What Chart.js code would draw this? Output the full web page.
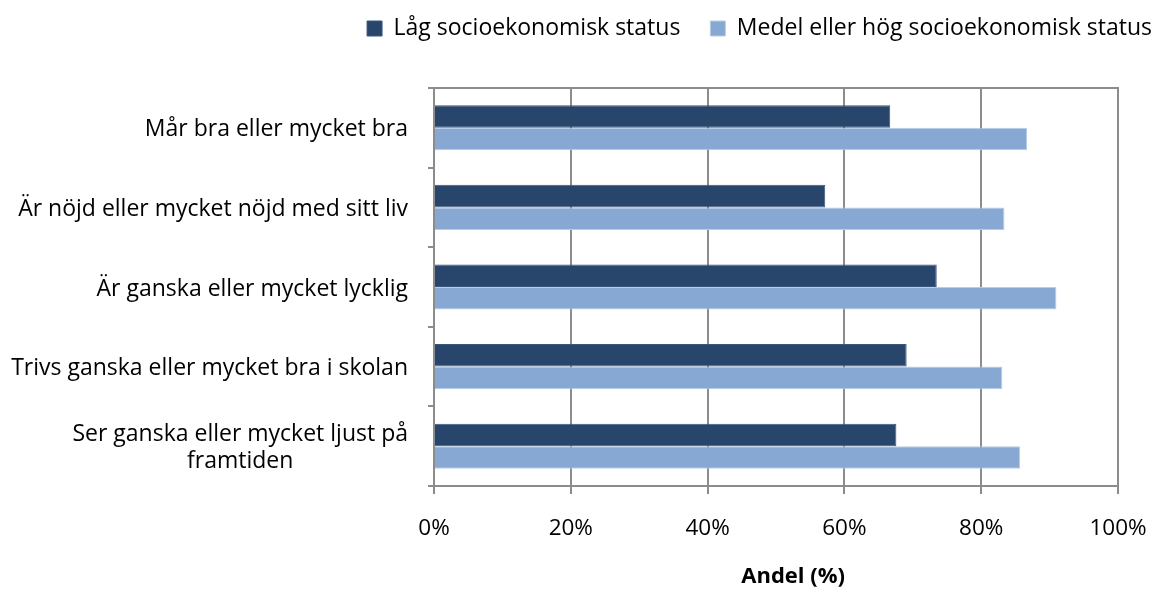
<!DOCTYPE html>
<html><head><meta charset="utf-8">
<script src="https://cdn.jsdelivr.net/npm/chart.js@4.4.1/dist/chart.umd.min.js"></script>
<style>html,body{margin:0;padding:0;background:#fff}#wrap{width:1157px;height:590px;position:relative}</style>
</head><body><div id="wrap"><canvas id="c" width="1157" height="590"></canvas></div>
<script>
const categories = [
  ['Mår bra eller mycket bra'],
  ['Är nöjd eller mycket nöjd med sitt liv'],
  ['Är ganska eller mycket lycklig'],
  ['Trivs ganska eller mycket bra i skolan'],
  ['Ser ganska eller mycket ljust på', 'framtiden']
];
const seriesNames = ['Låg socioekonomisk status', 'Medel eller hög socioekonomisk status'];
const lowStatus = [66.7, 57.2, 73.5, 69.1, 67.6];
const midHighStatus = [86.7, 83.4, 91.0, 83.1, 85.7];
const xTickValues = [0, 20, 40, 60, 80, 100];
const xTitle = 'Andel (%)';

const FONT = 'Open Sans';
const FS = 23;
const GRID = '#8c8c8c';

const catLabelPlugin = {
  id: 'catLabels',
  afterDraw(chart) {
    const s = chart.scales.y, ctx = chart.ctx;
    ctx.save();
    ctx.font = FS + 'px "' + FONT + '"';
    ctx.fillStyle = '#000';
    ctx.textAlign = 'center';
    ctx.textBaseline = 'alphabetic';
    const cap = ctx.measureText('M').actualBoundingBoxAscent;
    const lh = 27;
    const right = s.right - 6 - 20;
    categories.forEach((lines, i) => {
      const y = s.getPixelForTick(i);
      const bw = Math.max(...lines.map(l => ctx.measureText(l).width));
      const cx = right - bw / 2;
      const y0 = y - (lines.length - 1) * lh / 2 + cap / 2;
      lines.forEach((l, k) => ctx.fillText(l, cx, y0 + k * lh));
    });
    ctx.restore();
  }
};
const framePlugin = {
  id: 'frame',
  beforeUpdate(chart) {
    const lg = chart.legend;
    if (lg && !lg._gapPatched) {
      const f = lg.fit;
      lg.fit = function () { f.call(this); this.height += 38; };
      lg._gapPatched = true;
    }
  },
  afterDatasetsDraw(chart) {
    const a = chart.chartArea, ctx = chart.ctx;
    ctx.save();
    ctx.strokeStyle = GRID; ctx.lineWidth = 2;
    ctx.strokeRect(a.left, a.top, a.right - a.left, a.bottom - a.top);
    ctx.restore();
  }
};

new Chart(document.getElementById('c'), {
  type: 'bar',
  data: {
    labels: categories,
    datasets: [
      { label: seriesNames[0], data: lowStatus, backgroundColor: '#28466b', borderColor: '#3a5680', borderWidth: 1 },
      { label: seriesNames[1], data: midHighStatus, backgroundColor: '#86a8d3', borderColor: '#b9cde5', borderWidth: 1 }
    ]
  },
  options: {
    indexAxis: 'y',
    responsive: false,
    animation: false,
    events: [],
    categoryPercentage: 0.567,
    barPercentage: 1.0,
    layout: { padding: { left: 0, right: -25, top: -13, bottom: 0 } },
    plugins: {
      legend: {
        position: 'top', align: 'end',
        labels: { font: { family: FONT, size: FS }, color: '#000', boxWidth: 15, boxHeight: 15, padding: 30 }
      },
      tooltip: { enabled: false }
    },
    scales: {
      x: {
        min: 0, max: 100,
        afterBuildTicks(s) { s.ticks = xTickValues.map(v => ({ value: v })); },
        afterFit(s) { s.height = 104; s.paddingLeft = 0; s.paddingRight = 0; },
        grid: { color: GRID, lineWidth: 2, tickLength: 8, tickColor: GRID },
        border: { color: GRID, width: 2 },
        ticks: { font: { family: FONT, size: 22.5 }, color: '#000', padding: 21, maxRotation: 0, callback: v => v + '%' },
        title: { display: true, text: '      ' + xTitle, font: { family: FONT, size: 22, weight: 'bold' }, color: '#000', padding: { top: 0, bottom: 0 } }
      },
      y: {
        afterFit(s) { s.width = 434; },
        grid: { offset: true, drawOnChartArea: false, tickLength: 6, color: GRID, lineWidth: 2 },
        border: { color: GRID, width: 2 },
        ticks: { display: false }
      },
      y2: {
        type: 'linear', position: 'right', display: true,
        afterFit(s) { s.width = 64; },
        grid: { display: false }, border: { display: false }, ticks: { display: false }
      }
    }
  },
  plugins: [catLabelPlugin, framePlugin]
});
</script></body></html>
